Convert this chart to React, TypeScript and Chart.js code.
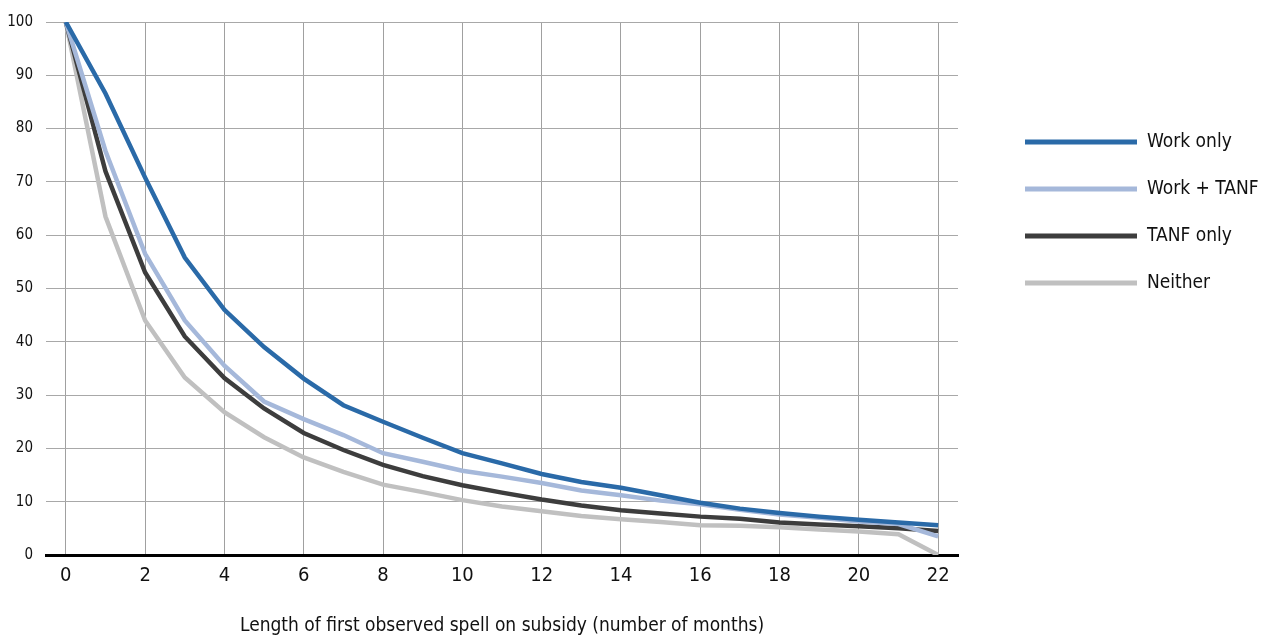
import React, { useEffect, useRef } from "react";
import { Chart, registerables } from "chart.js";

Chart.register(...registerables);

const months = [0, 1, 2, 3, 4, 5, 6, 7, 8, 9, 10, 11, 12, 13, 14, 15, 16, 17, 18, 19, 20, 21, 22];
const workOnly = [100, 86.6, 70.8, 55.8, 46.0, 39.0, 33.1, 28.1, 25.0, 22.0, 19.1, 17.2, 15.2, 13.7, 12.6, 11.2, 9.8, 8.7, 7.9, 7.2, 6.6, 6.1, 5.6];
const workTanf = [100, 75.8, 56.5, 44.0, 35.5, 28.8, 25.5, 22.5, 19.1, 17.5, 15.8, 14.7, 13.5, 12.1, 11.2, 10.2, 9.5, 8.5, 7.6, 7.0, 6.3, 5.8, 3.5];
const tanfOnly = [100, 72.0, 53.0, 41.0, 33.2, 27.5, 22.9, 19.7, 16.9, 14.8, 13.1, 11.7, 10.4, 9.3, 8.4, 7.8, 7.2, 6.8, 6.1, 5.7, 5.4, 5.0, 4.5];
const neither = [100, 63.5, 44.0, 33.3, 26.8, 22.1, 18.3, 15.6, 13.2, 11.8, 10.3, 9.1, 8.2, 7.3, 6.7, 6.2, 5.6, 5.5, 5.2, 4.8, 4.4, 3.9, 0];

const seriesLabels = ["Work only", "Work + TANF", "TANF only", "Neither"];
const seriesValues = [workOnly, workTanf, tanfOnly, neither];
const seriesColors = ["#2a6aa8", "#a5b8da", "#3d3d3d", "#c0c0c0"];

const xTitle = "Length of first observed spell on subsidy (number of months)";

const FONT = '"DejaVu Sans Condensed", "Liberation Sans Narrow", "Roboto", sans-serif';

const legendPlugin = {
  id: "customLegend",
  afterDraw(chart: any) {
    const ctx = chart.ctx;
    const area = chart.chartArea;
    const x0 = area.right + 67;
    const x1 = area.right + 179;
    const tx = area.right + 189;
    const y0 = 142;
    const step = 47;
    ctx.save();
    chart.data.datasets.forEach((ds: any, i: number) => {
      const y = y0 + i * step;
      ctx.strokeStyle = ds.borderColor;
      ctx.lineWidth = 5;
      ctx.lineCap = "butt";
      ctx.beginPath();
      ctx.moveTo(x0, y);
      ctx.lineTo(x1, y);
      ctx.stroke();
      ctx.fillStyle = "#111";
      ctx.font = `19px ${FONT}`;
      ctx.textBaseline = "middle";
      ctx.textAlign = "left";
      ctx.fillText(ds.label, tx, y);
    });
    ctx.restore();
  },
};

export default function App() {
  const canvasRef = useRef<HTMLCanvasElement | null>(null);

  useEffect(() => {
    document.body.style.margin = "0";
    document.body.style.overflow = "hidden";
    const canvas = canvasRef.current;
    if (!canvas) return;
    const chart = new Chart(canvas, {
      type: "line",
      data: {
        datasets: seriesLabels.map((label, i) => ({
          label,
          data: months.map((m, j) => ({ x: m, y: seriesValues[i][j] })),
          borderColor: seriesColors[i],
          backgroundColor: seriesColors[i],
          borderWidth: 4.5,
          pointRadius: 0,
          pointHoverRadius: 0,
          tension: 0,
          fill: false,
        })),
      },
      options: {
        animation: false,
        responsive: true,
        maintainAspectRatio: false,
        layout: { padding: { top: 21, right: 303, bottom: 0, left: 0 } },
        plugins: {
          legend: { display: false },
          tooltip: { enabled: false },
        },
        scales: {
          x: {
            type: "linear",
            min: -0.5,
            max: 22.5,
            afterFit: (scale: any) => {
              scale.height = 83;
            },
            ticks: {
              stepSize: 2,
              includeBounds: false,
              padding: 9,
              color: "#111",
              font: { family: FONT, size: 20 },
            },
            grid: { color: "#a0a0a0", lineWidth: 1, drawTicks: false },
            border: { display: true, color: "#000", width: 3 },
            title: {
              display: true,
              text: xTitle,
              color: "#111",
              font: { family: FONT, size: 19 },
              padding: { top: 0, bottom: 1 },
            },
          },
          y: {
            min: 0,
            max: 100,
            afterFit: (scale: any) => {
              scale.width = 46;
            },
            ticks: {
              stepSize: 10,
              padding: 13,
              color: "#111",
              font: { family: FONT, size: 15 },
            },
            grid: {
              color: (c: any) => (c.tick && c.tick.value === 0 ? "#000" : "#a8a8a8"),
              lineWidth: (c: any) => (c.tick && c.tick.value === 0 ? 3 : 1),
              drawTicks: false,
            },
            border: { display: false },
          },
        },
      },
      plugins: [legendPlugin],
    });
    return () => chart.destroy();
  }, []);

  return (
    <div style={{ position: "relative", width: "1261px", height: "638px" }}>
      <canvas ref={canvasRef} />
    </div>
  );
}
